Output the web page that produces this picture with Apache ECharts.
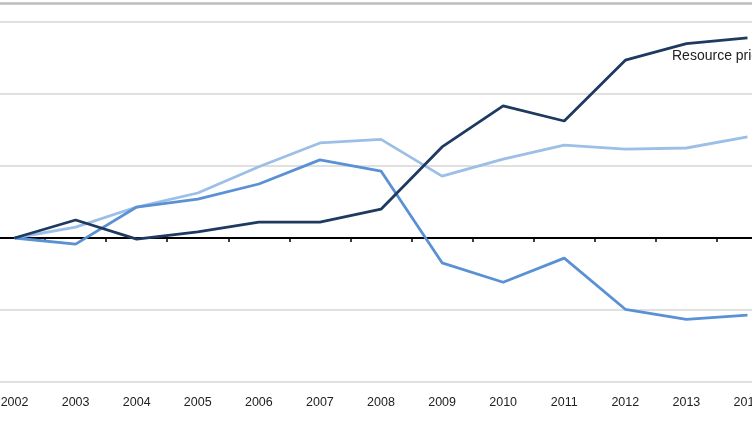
<!DOCTYPE html>
<html><head><meta charset="utf-8">
<script src="https://cdn.jsdelivr.net/npm/echarts@6/dist/echarts.min.js"></script>
<style>html,body{margin:0;padding:0;background:#fff;overflow:hidden;width:752px;height:423px}#c{width:794px;height:423px;margin-left:-16px}</style>
</head><body><div id="c"></div>
<script>
const years = ['2002','2003','2004','2005','2006','2007','2008','2009','2010','2011','2012','2013','2014'];
const resourcePrices = [0, 5, -0.3, 1.7, 4.4, 4.4, 8, 25.3, 36.7, 32.5, 49.4, 54, 55.6];
const lightSeries = [0, 3, 8.6, 12.5, 19.8, 26.4, 27.4, 17.2, 21.9, 25.8, 24.7, 25, 28.1];
const mediumSeries = [0, -1.7, 8.6, 10.8, 15, 21.7, 18.6, -6.9, -12.3, -5.6, -19.8, -22.6, -21.4];
const yMin = -40, yMax = 60, yStep = 20;

const chart = echarts.init(document.getElementById('c'), null, {renderer:'canvas'});
chart.setOption({
  animation: false,
  grid: {left: 0, right: 0, top: 22, bottom: 41},
  xAxis: [
    {type:'category', data: years, boundaryGap: true,
     axisLine:{onZero:true, lineStyle:{color:'#000', width:2}},
     axisTick:{show:true, length:4, lineStyle:{color:'#000', width:1.5}},
     axisLabel:{show:false}, splitLine:{show:false}},
    {type:'category', data: years, boundaryGap: true, position:'bottom', gridIndex:0,
     axisLine:{show:false, onZero:false}, axisTick:{show:false},
     axisLabel:{show:true, margin:14, color:'#222', fontSize:12.5, fontFamily:'Liberation Sans'}}
  ],
  yAxis: {type:'value', min:yMin, max:yMax, interval:yStep,
    axisLine:{show:false}, axisTick:{show:false}, axisLabel:{show:false},
    splitLine:{lineStyle:{color:'#d6d6d6', width:1.5}}},
  graphic: [
    {type:'line', shape:{x1:0, y1:3.5, x2:794, y2:3.5}, style:{stroke:'#bdbdbd', lineWidth:2.5}},
    {type:'text', left:688, top:49, style:{text:'Resource prices', fill:'#222', font:'14px "Liberation Sans"'}}
  ],
  series: [
    {name:'Light', type:'line', data: lightSeries, symbol:'none', lineStyle:{color:'#9cbfe7', width:2.8}, itemStyle:{color:'#9cbfe7'}},
    {name:'Medium', type:'line', data: mediumSeries, symbol:'none', lineStyle:{color:'#5a91d5', width:2.8}, itemStyle:{color:'#5a91d5'}},
    {name:'Resource prices', type:'line', data: resourcePrices, symbol:'none', lineStyle:{color:'#1e3a60', width:2.8}, itemStyle:{color:'#1e3a60'}}
  ]
});
</script></body></html>
